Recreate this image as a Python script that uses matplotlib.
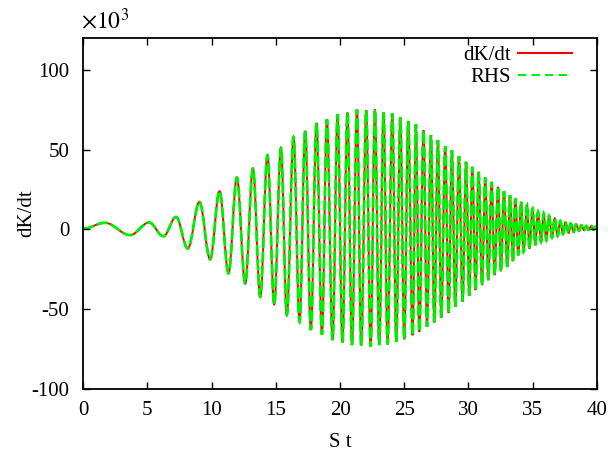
import matplotlib
matplotlib.use("Agg")
import matplotlib.pyplot as plt
from matplotlib.path import Path
from matplotlib.patches import PathPatch
from matplotlib.lines import Line2D

# ------------------------------
# data: turning points of the curve, in units of 10^3
# ------------------------------
t_vals = [
    0.00, 1.71, 3.66, 5.14, 6.25, 7.24, 8.15, 9.06,
    9.89, 10.62, 11.32, 11.97, 12.62, 13.22, 13.79, 14.35, 14.88, 15.40,
    15.86, 16.38, 16.85, 17.29, 17.73, 18.17, 18.59, 18.98, 19.42, 19.81,
    20.19, 20.58, 20.93, 21.32, 21.65, 22.04, 22.38, 22.72, 23.05, 23.39,
    23.70, 24.07, 24.38, 24.69, 25.00, 25.31, 25.65, 25.91, 26.17, 26.50,
    26.77, 27.08, 27.34, 27.62, 27.88, 28.19, 28.45, 28.71, 28.97, 29.26,
    29.54, 29.81, 30.06, 30.30, 30.55, 30.79, 31.05, 31.31, 31.54, 31.80,
    32.03, 32.30, 32.53, 32.76, 33.02, 33.23, 33.46, 33.64, 33.88, 34.09,
    34.29, 34.56, 34.74, 34.99, 35.20, 35.41, 35.65, 35.85, 36.06, 36.27,
    36.50, 36.71, 36.94, 37.15, 37.36, 37.54, 37.80, 37.95, 38.19, 38.37,
    38.61, 38.78, 38.99, 39.17, 39.35, 39.56, 39.74, 39.88, 40.00,
]
dkdt_vals = [
    0.5, 4.1, -3.6, 4.3, -4.3, 7.8, -12.0, 17.2,
    -18.8, 23.9, -27.6, 32.5, -33.9, 38.1, -42.3, 46.5, -47.0, 51.0,
    -53.7, 57.9, -57.9, 61.7, -63.1, 66.7, -66.1, 69.0, -69.4, 72.1,
    -70.8, 73.2, -72.5, 75.1, -72.7, 74.6, -73.6, 75.1, -72.5, 73.4,
    -72.1, 72.6, -70.4, 70.1, -68.9, 67.9, -66.4, 65.7, -64.2, 62.1,
    -61.1, 59.0, -58.3, 55.9, -55.2, 52.1, -52.3, 49.6, -48.5, 45.8,
    -45.4, 42.3, -41.6, 39.1, -38.1, 36.0, -34.9, 32.5, -31.8, 29.7,
    -28.7, 26.6, -26.2, 23.9, -23.5, 21.4, -19.9, 19.3, -16.2, 17.2,
    -14.1, 15.2, -12.0, 13.1, -9.9, 11.0, -7.8, 10.0, -6.8, 8.5,
    -5.1, 6.8, -4.1, 5.3, -3.0, 4.3, -2.2, 3.7, -1.6, 3.1,
    -0.9, 2.6, -0.5, 2.2, -0.3, 2.0, -0.1, 1.6, 0.4,
]
# RHS lies on top of dK/dt everywhere at this resolution
rhs_vals = list(dkdt_vals)

x_ticks = [0, 5, 10, 15, 20, 25, 30, 35, 40]
y_ticks = [-100, -50, 0, 50, 100]


def wave_path(ts, vs, k=0.3642):
    # smooth curve through the turning points: cubic Bezier pieces with flat tangents
    verts = [(ts[0], vs[0])]
    codes = [Path.MOVETO]
    for i in range(1, len(ts)):
        dt = ts[i] - ts[i - 1]
        verts += [(ts[i - 1] + k * dt, vs[i - 1]), (ts[i] - k * dt, vs[i]), (ts[i], vs[i])]
        codes += [Path.CURVE4] * 3
    return Path(verts, codes)


# ------------------------------
# style
# ------------------------------
plt.rcParams['font.family'] = ['Liberation Serif', 'DejaVu Serif']
plt.rcParams['mathtext.fontset'] = 'stix'
plt.rcParams['axes.unicode_minus'] = False
plt.rcParams['font.size'] = 15

red = '#ff0000'
green = '#00ee00'

fig = plt.figure(figsize=(6.11, 4.57), dpi=100)
ax = fig.add_axes([0.136, 0.149, 0.841, 0.768])

ax.add_patch(PathPatch(wave_path(t_vals, dkdt_vals), fill=False, edgecolor=red, lw=1.4))
ax.add_patch(PathPatch(wave_path(t_vals, rhs_vals), fill=False, edgecolor=green, lw=2.0,
                       linestyle=(0, (4, 1.2))))

ax.set_xlim(0, 40)
ax.set_ylim(-100, 120)
ax.set_xticks(x_ticks)
ax.set_yticks(y_ticks)
ax.tick_params(direction='in', length=5, width=1, top=True, right=True, labelsize=15)
ax.tick_params(axis='x', pad=9)
ax.tick_params(axis='y', pad=10)
for s in ax.spines.values():
    s.set_linewidth(1.3)

ax.set_xlabel('S t', fontsize=15, labelpad=9)
ax.set_ylabel('dK/dt', fontsize=15, labelpad=-3.5)
ax.text(-0.004, 1.012, r'$\times10^3$', transform=ax.transAxes, fontsize=17,
        ha='left', va='bottom')

handles = [Line2D([], [], color=red, lw=1.5),
           Line2D([], [], color=green, lw=1.5, dashes=(4, 2.5))]
ax.legend(handles, ['dK/dt', 'RHS'], loc='upper right', bbox_to_anchor=(0.952, 0.978),
          frameon=False, markerfirst=False, handlelength=2.6, fontsize=15,
          borderaxespad=0, borderpad=0, labelspacing=0.1, handletextpad=0.35)

fig.savefig('out.png', dpi=100)
